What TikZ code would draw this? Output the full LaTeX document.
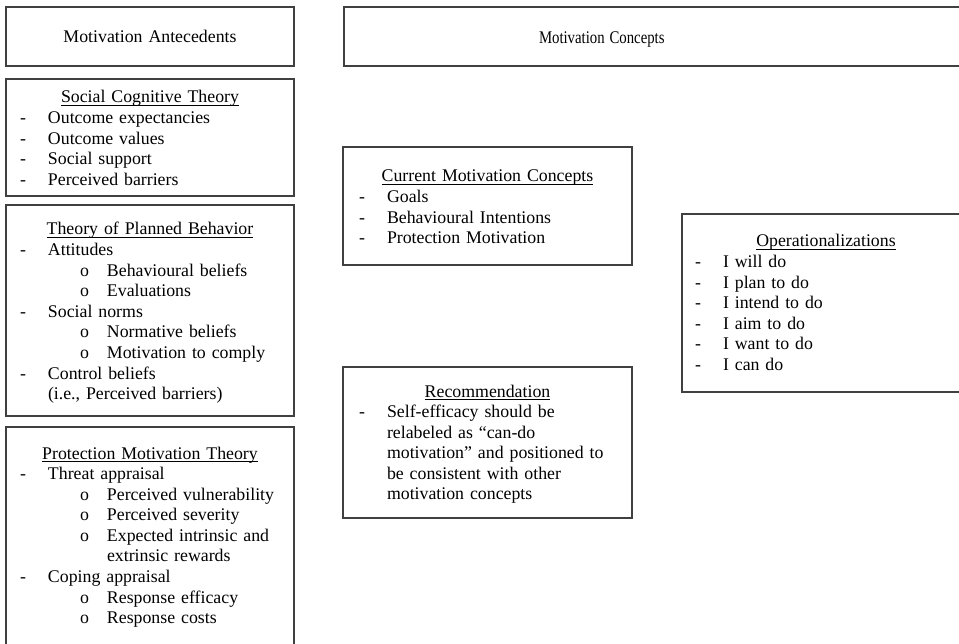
\documentclass[tikz,border=0pt]{standalone}
\usepackage{graphicx}
\usepackage{fontspec}
\setmainfont{Liberation Serif}
\usetikzlibrary{positioning}

\newcommand{\heading}[1]{\makebox[\linewidth]{\setbox0=\hbox{#1}\rlap{\rule[-3.2pt]{\wd0}{0.9pt}}\box0}}
\newcommand{\dashline}[1]{\makebox[28pt][l]{-}#1}
\newcommand{\subline}[1]{\hspace*{60pt}\makebox[27pt][l]{o}#1}
\newcommand{\moreline}[2][28pt]{\hspace*{#1}#2}

\begin{document}
\begin{tikzpicture}[x=1pt, y=-1pt,
    panel/.style={draw=black!75, line width=1.2pt, anchor=north west,
        inner xsep=14pt, inner ysep=0pt, outer sep=0pt, align=left,
        font=\fontsize{17.8}{20.6}\selectfont}]

    \useasboundingbox (0,0) rectangle (959,644);
    \clip (0,0) rectangle (959,644);

    % Column headers
    \node[panel, text width=260pt, text height=36pt, text depth=23pt] (anteced) at (6,7)
        {\makebox[\linewidth]{Motivation Antecedents}};
    \node[panel, text width=598pt, text height=37pt, text depth=22pt] (concepts) at (344,7)
        {\hspace*{181pt}\scalebox{0.83}[1]{Motivation Concepts}};

    % Antecedent theories
    \node[panel, text width=260pt, text height=24pt, text depth=93pt] (sct) at (6,79)
        {\heading{Social Cognitive Theory}\\
         \dashline{Outcome expectancies}\\
         \dashline{Outcome values}\\
         \dashline{Social support}\\
         \dashline{Perceived barriers}};
    \node[panel, text width=260pt, text height=30pt, text depth=181pt, below=9pt of sct] (tpb)
        {\heading{Theory of Planned Behavior}\\
         \dashline{Attitudes}\\
         \subline{Behavioural beliefs}\\
         \subline{Evaluations}\\
         \dashline{Social norms}\\
         \subline{Normative beliefs}\\
         \subline{Motivation to comply}\\
         \dashline{Control beliefs}\\
         \moreline{(i.e., Perceived barriers)}};
    \node[panel, text width=260pt, text height=32pt, text depth=201pt, below=11pt of tpb] (pmt)
        {\heading{Protection Motivation Theory}\\
         \dashline{Threat appraisal}\\
         \subline{Perceived vulnerability}\\
         \subline{Perceived severity}\\
         \subline{Expected intrinsic and}\\
         \moreline[87pt]{extrinsic rewards}\\
         \dashline{Coping appraisal}\\
         \subline{Response efficacy}\\
         \subline{Response costs}};

    % Motivation concepts
    \node[panel, inner xsep=16pt, text width=257pt, text height=35pt, text depth=83pt] (current) at (343,147)
        {\heading{Current Motivation Concepts}\\
         \dashline{Goals}\\
         \dashline{Behavioural Intentions}\\
         \dashline{Protection Motivation}};
    \node[panel, inner xsep=16pt, text width=257pt, text height=30pt, text depth=121pt, below=102pt of current] (recommend)
        {\heading{Recommendation}\\
         \dashline{Self-efficacy should be}\\
         \moreline{relabeled as “can-do}\\
         \moreline{motivation” and positioned to}\\
         \moreline{be consistent with other}\\
         \moreline{motivation concepts}};
    \node[panel, inner xsep=13pt, text width=262pt, text height=33pt, text depth=145pt] (operational) at (682,214)
        {\heading{Operationalizations}\\
         \dashline{I will do}\\
         \dashline{I plan to do}\\
         \dashline{I intend to do}\\
         \dashline{I aim to do}\\
         \dashline{I want to do}\\
         \dashline{I can do}};

\end{tikzpicture}
\end{document}
